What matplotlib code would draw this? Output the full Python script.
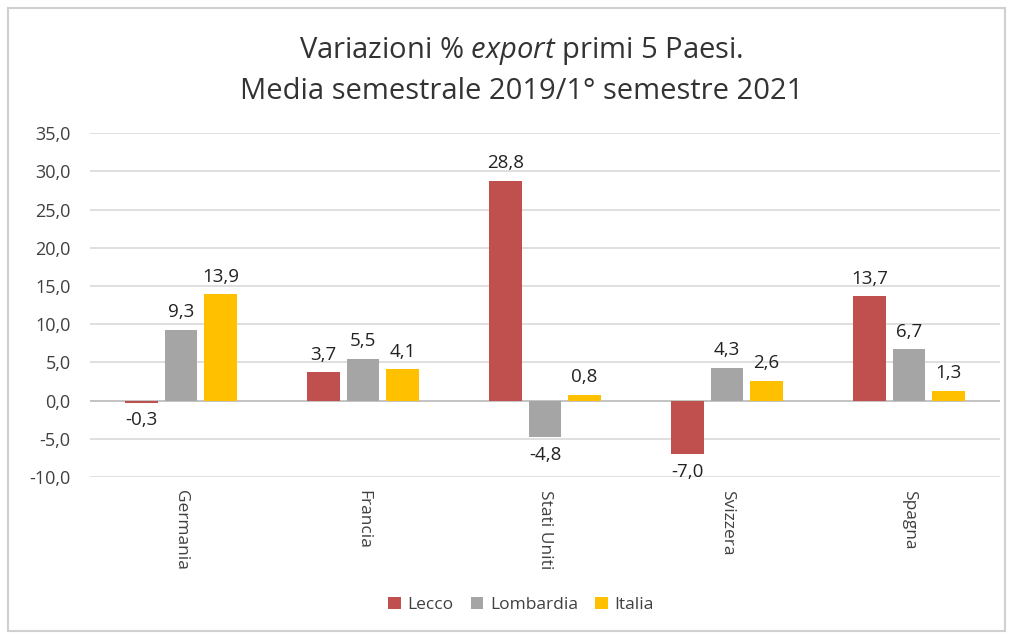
import matplotlib
matplotlib.use('Agg')
from matplotlib import pyplot as plt
from matplotlib.patches import Rectangle
import numpy as np

plt.rcParams['font.family'] = ['Open Sans', 'DejaVu Sans']
plt.rcParams['mathtext.fontset'] = 'custom'
plt.rcParams['mathtext.rm'] = 'Open Sans'
plt.rcParams['mathtext.it'] = 'Open Sans:italic'

paesi = ['Germania', 'Francia', 'Stati Uniti', 'Svizzera', 'Spagna']
lecco = [-0.3, 3.7, 28.8, -7.0, 13.7]
lombardia = [9.3, 5.5, -4.8, 4.3, 6.7]
italia = [13.9, 4.1, 0.8, 2.6, 1.3]
serie = ['Lecco', 'Lombardia', 'Italia']
colors = ['#C0504D', '#A5A5A5', '#FFC000']

fig = plt.figure(figsize=(10.12, 6.37), dpi=100)
ax = fig.add_axes([0.089, 0.251, 0.899, 0.540])

# outer border
fig.patches.append(Rectangle((0.008, 0.01), 0.985, 0.978, transform=fig.transFigure,
                             fill=False, edgecolor='#D0D0D0', linewidth=1.5))

x = np.arange(len(paesi))
w = 0.18
step = 0.217
for i, (name, vals) in enumerate(zip(serie, [lecco, lombardia, italia])):
    pos = x + (i - 1) * step
    ax.bar(pos, vals, w, color=colors[i], label=name, zorder=3)
    for px, v in zip(pos, vals):
        txt = ('%.1f' % v).replace('.', ',')
        if v >= 0:
            ax.annotate(txt, (px, v), xytext=(0, 6), textcoords='offset points',
                        ha='center', va='bottom', fontsize=13.5, color='#222222')
        else:
            ax.annotate(txt, (px, v), xytext=(0, -6), textcoords='offset points',
                        ha='center', va='top', fontsize=13.5, color='#222222')

ax.set_xlim(-0.5, len(paesi) - 0.5)
ax.set_ylim(-10, 35)
ax.set_yticks(np.arange(-10, 36, 5))
ax.set_yticklabels([('%.1f' % t).replace('.', ',') for t in np.arange(-10, 36, 5)],
                   fontsize=13, color='#404040')
ax.yaxis.grid(True, color='#D9D9D9', linewidth=1.2, zorder=0)
ax.axhline(0, color='#BFBFBF', linewidth=1.2, zorder=2)
for s in ax.spines.values():
    s.set_visible(False)
ax.tick_params(axis='y', length=0, pad=14)
ax.tick_params(axis='x', length=0, pad=9)
ax.set_xticks(x)
ax.set_xticklabels(paesi, rotation=270, fontsize=12.5, color='#404040', va='top')

fig.text(0.515, 0.92, 'Variazioni % $\\mathit{export}$ primi 5 Paesi.', ha='center',
         va='center', fontsize=21, color='#333333')
fig.text(0.515, 0.857, 'Media semestrale 2019/1° semestre 2021', ha='center',
         va='center', fontsize=21, color='#333333')

fig.legend(loc='center', bbox_to_anchor=(0.515, 0.05), ncol=3, frameon=False,
           fontsize=12.5, handlelength=0.7, handleheight=0.7, columnspacing=1.0,
           handletextpad=0.4, labelcolor='#404040')

plt.savefig('out.png', dpi=100)
